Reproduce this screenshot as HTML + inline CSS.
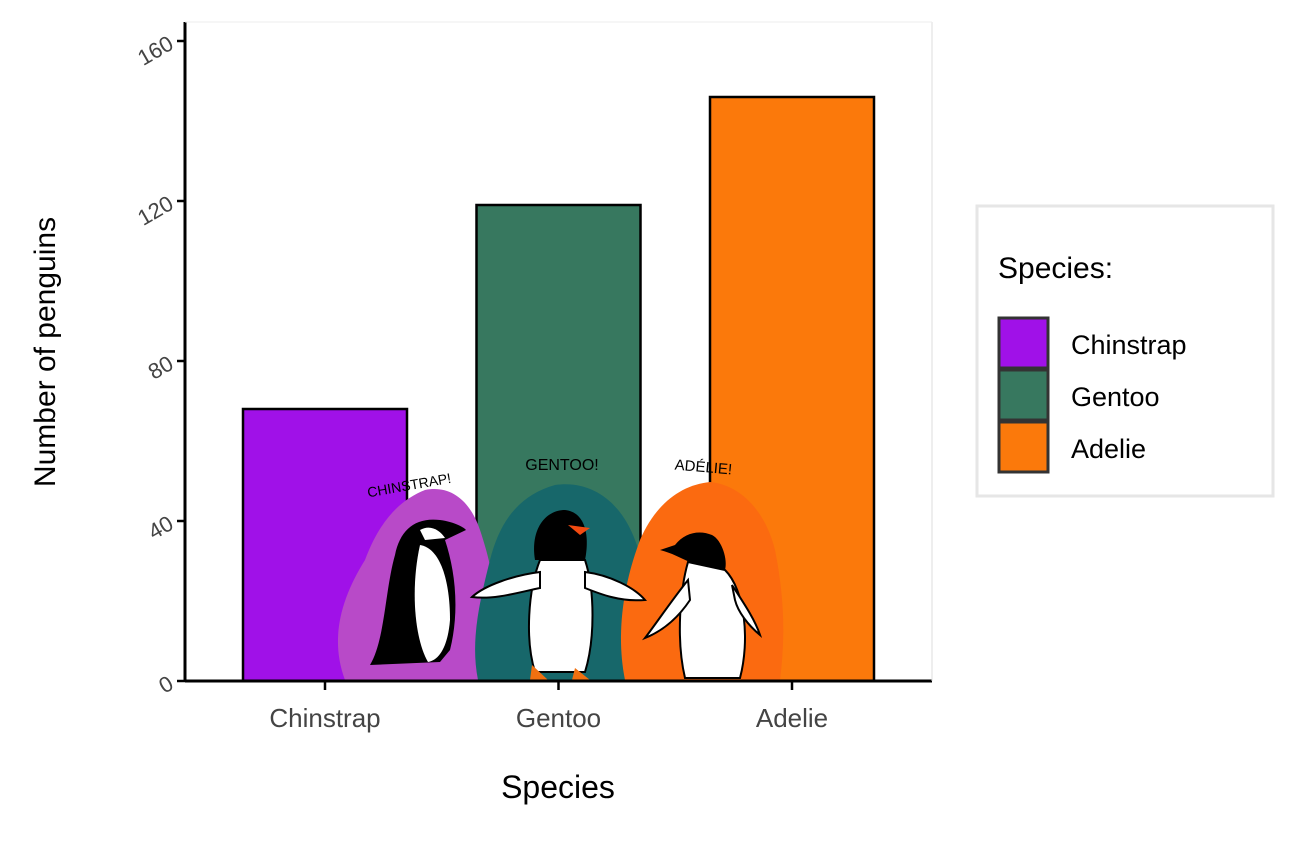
<!DOCTYPE html>
<html><head><meta charset="utf-8"><style>
body{margin:0;background:#fff;width:1295px;height:842px;overflow:hidden}
svg{font-family:"Liberation Sans",sans-serif}
</style></head><body>
<svg id="chart" width="1295" height="842">
<g id="bars"></g>
<g id="art">
  <path d="M345,680 C330,640 340,600 365,560 C380,520 400,500 425,490 C450,485 470,500 480,530 C490,560 500,600 495,640 L490,680 Z" fill="#b84ac8"/>
  <path d="M478,680 C470,640 480,600 490,560 C500,520 520,495 555,485 C590,480 620,500 635,540 C650,580 655,630 645,680 Z" fill="#17676a"/>
  <path d="M625,680 C615,630 625,580 640,540 C655,505 680,485 710,482 C740,485 765,510 775,550 C785,600 785,640 780,680 Z" fill="#fb6a10"/>
  <!-- chinstrap penguin -->
  <path d="M370,665 C385,640 385,590 395,555 C400,530 415,517 440,520 C455,522 465,528 466,530 L445,540 C455,570 460,610 450,650 L440,662 Z" fill="#000"/>
  <path d="M420,545 C440,548 450,580 450,620 C448,645 440,660 428,662 C415,640 410,590 420,545 Z" fill="#fff"/>
  <path d="M420,530 C430,524 440,530 445,538 L425,540 Z" fill="#fff"/>
  <!-- gentoo penguin -->
  <path d="M535,560 C530,530 545,510 565,510 C585,512 590,535 585,560 Z" fill="#000"/>
  <path d="M568,525 L590,528 L580,535 Z" fill="#f24a10"/>
  <path d="M540,560 C528,590 525,640 535,672 L585,672 C595,640 595,590 585,560 Z" fill="#fff" stroke="#000" stroke-width="2"/>
  <path d="M540,572 C515,575 485,585 472,597 C495,600 520,592 540,588 Z" fill="#fff" stroke="#000" stroke-width="2"/>
  <path d="M585,572 C610,575 635,588 645,600 C620,602 600,594 585,588 Z" fill="#fff" stroke="#000" stroke-width="2"/>
  <path d="M532,665 L548,680 L530,680 Z M575,668 L590,680 L572,680 Z" fill="#f07010"/>
  <!-- adelie penguin -->
  <path d="M675,545 C685,532 700,530 712,535 C722,540 728,560 725,570 L690,562 C680,558 672,553 660,550 Z" fill="#000"/>
  <path d="M688,562 C680,590 676,640 685,678 L740,678 C750,640 745,590 725,570 Z" fill="#fff" stroke="#000" stroke-width="2"/>
  <path d="M688,580 C672,600 655,625 645,638 C665,630 680,615 690,600 Z" fill="#fff" stroke="#000" stroke-width="2"/>
  <path d="M732,585 C745,605 755,620 760,635 C748,625 738,612 735,600 Z" fill="#fff" stroke="#000" stroke-width="2"/>
  <text x="410" y="490" font-size="14" text-anchor="middle" transform="rotate(-10 410 490)">CHINSTRAP!</text>
  <text x="562" y="470" font-size="16" text-anchor="middle">GENTOO!</text>
  <text x="703" y="472" font-size="15" text-anchor="middle" transform="rotate(5 703 472)">ADÉLIE!</text>
</g>
<g id="axes"></g>
<line x1="932" y1="22" x2="932" y2="681" stroke="#ddd" stroke-width="1"/>
<line x1="185" y1="22" x2="932" y2="22" stroke="#eee" stroke-width="1"/>
<text x="558" y="798" font-size="32" text-anchor="middle">Species</text>
<text transform="translate(55,352) rotate(-90)" font-size="30" text-anchor="middle">Number of penguins</text>
<g>
  <rect x="977" y="206" width="296" height="290" fill="#fff" stroke="#e6e6e6" stroke-width="3"/>
  <text x="998" y="278" font-size="30">Species:</text>
  <g id="legend-entries"></g>
</g>
</svg>
<script>
const categories = ["Chinstrap","Gentoo","Adelie"];
const counts = [68, 119, 146];
const colors = ["#a011e8","#37785f","#fb790b"];
const yTicks = [0,40,80,120,160];

const NS="http://www.w3.org/2000/svg";
const x0=185, x1=932, yBase=681, yTop=41, yMax=160;
const band=(x1-x0)/categories.length;
const barW=164;
const xc=i=>x0+band*(i+0.5)-24+i*0.5*0;
const xCenter=i=>[325,559,792][0]+ (i*233.5);
const y=v=>yBase-(yBase-yTop)*v/yMax;
function el(t,a){const e=document.createElementNS(NS,t);for(const k in a)e.setAttribute(k,a[k]);return e;}

const bars=document.getElementById('bars');
categories.forEach((c,i)=>{
  const r=el('rect',{x:xCenter(i)-barW/2,y:y(counts[i]),width:barW,height:y(0)-y(counts[i]),fill:colors[i],stroke:'#000','stroke-width':2.5});
  
  
  bars.appendChild(r);
});

const axes=document.getElementById('axes');
axes.appendChild(el('line',{x1:x0,y1:yBase,x2:x1,y2:yBase,stroke:'#000','stroke-width':3}));
axes.appendChild(el('line',{x1:x0,y1:22,x2:x0,y2:yBase,stroke:'#000','stroke-width':3}));
yTicks.forEach(t=>{
  axes.appendChild(el('line',{x1:x0-8,y1:y(t),x2:x0,y2:y(t),stroke:'#000','stroke-width':2.5}));
  const tx=el('text',{x:x0-14,y:y(t)+8,'font-size':22,fill:'#444','text-anchor':'end',transform:`rotate(-30 ${x0-14} ${y(t)})`});
  tx.textContent=t;
  
  
  axes.appendChild(tx);
});
categories.forEach((c,i)=>{
  axes.appendChild(el('line',{x1:xCenter(i),y1:yBase,x2:xCenter(i),y2:yBase+9,stroke:'#000','stroke-width':2.5}));
  const tx=el('text',{x:xCenter(i),y:727,'font-size':26,fill:'#444','text-anchor':'middle'});
  tx.textContent=c;
  
  
  axes.appendChild(tx);
});

const leg=document.getElementById('legend-entries');
categories.forEach((c,i)=>{
  const g=el('g',{});
  
  
  g.appendChild(el('rect',{x:999,y:318+52*i,width:49,height:50,fill:colors[i],stroke:'#333','stroke-width':3}));
  const t=el('text',{x:1071,y:354+52*i,'font-size':27,fill:'#000'});
  t.textContent=c;
  g.appendChild(t);
  leg.appendChild(g);
});
</script>
</body></html>
